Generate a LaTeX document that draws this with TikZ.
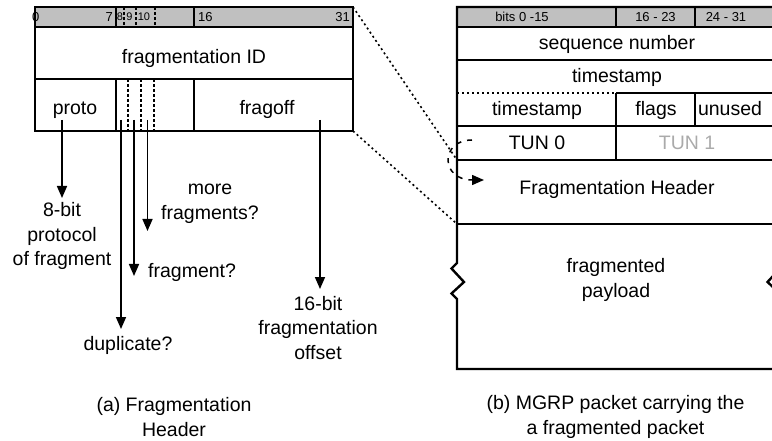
\documentclass[tikz,border=0pt]{standalone}
\usepackage{fontspec}
\setmainfont{Liberation Sans}
\usetikzlibrary{arrows.meta}
\definecolor{barfill}{RGB}{192,192,192}
\definecolor{faded}{RGB}{170,170,170}
\begin{document}
\begin{tikzpicture}[x=1pt,y=-1pt,
  frame/.style={line width=1.6pt},
  heavy/.style={line width=2.4pt},
  lbl/.style={font=\fontsize{19.5}{24.5}\selectfont, inner sep=0pt, align=center},
  one/.style={lbl, text height=14pt, text depth=0pt},
  tiny/.style={font=\fontsize{13}{14}\selectfont, inner sep=0pt, text height=9.3pt, text depth=0pt},
  tinier/.style={font=\fontsize{11}{12}\selectfont, inner sep=0pt, text height=7.9pt, text depth=0pt},
  dotline/.style={line width=1.6pt, dash pattern=on 2pt off 3pt},
  bitline/.style={line width=1.3pt, dash pattern=on 3pt off 2pt},
  arr/.style={line width=1.6pt, -{Triangle[width=10pt,length=12pt]}},
  dasharr/.style={line width=1.5pt, dash pattern=on 5pt off 6pt, -{Triangle[width=10pt,length=12pt]}},
]
\useasboundingbox (0,0) rectangle (772,441);

% ---------- (a) fragmentation header ----------
\fill[barfill] (35,7) rectangle (353,27);
\node[tiny, anchor=west] (b0) at (32,17) {0};
\node[tiny, anchor=east] (b7) at (113,17) {7};
\node[tinier] (b8) at (120,17) {8};
\node[tinier] (b9) at (129.5,17) {9};
\node[tinier] (b10) at (144,17) {10};
\node[tiny, anchor=west] (b16) at (198,17) {16};
\node[tiny, anchor=east] (b31) at (350,17) {31};

\draw[frame] (35,7) rectangle (353,131);
\draw[frame] (35,27) -- (353,27);
\draw[frame] (35,79) -- (353,79);
\draw[frame] (116,7) -- (116,27) (194,7) -- (194,27);
\draw[frame] (116,79) -- (116,131) (194,79) -- (194,131);
\foreach \x in {124,136,155} \draw[bitline] (\x,7) -- (\x,27);
\foreach \x in {128,141,154} \draw[bitline] (\x,79) -- (\x,131);

\node[one] (fid) at (194,57) {fragmentation ID};
\node[one] (proto) at (75,108) {proto};
\node[one] (fragoff) at (267,108) {fragoff};

% field descriptions
\node[lbl] (protoL) at (62,236) {8-bit\\protocol\\of fragment};
\node[lbl, anchor=west] (moreL) at (161,204) {more\\fragments?};
\node[lbl, anchor=west] (fragL) at (148,272) {fragment?};
\node[lbl] (dupL) at (128,345) {duplicate?};
\node[lbl] (offL) at (318,328) {16-bit\\fragmentation\\offset};

\coordinate (protoS) at (62,120);  \coordinate (protoE) at (62,198);
\coordinate (dupS) at (121,120);   \coordinate (dupE) at (121,329);
\coordinate (fragS) at (134,120);  \coordinate (fragE) at (134,276);
\coordinate (moreS) at (147.5,120);\coordinate (moreE) at (147.5,231);
\coordinate (offS) at (320,120);   \coordinate (offE) at (320,289);
\draw[arr] (protoS) -- (protoE);
\draw[arr] (dupS) -- (dupE);
\draw[arr] (fragS) -- (fragE);
\draw[arr] (moreS) -- (moreE);
\draw[arr] (offS) -- (offE);

\node[lbl] (capA) at (174,417) {(a) Fragmentation\\Header};

% ---------- (b) MGRP packet ----------
\fill[barfill] (457,7) rectangle (780,27);
\node[tiny] (r1) at (522,17) {bits 0 -15};
\node[tiny] (r2) at (655.5,17) {16 - 23};
\node[tiny] (r3) at (726,17) {24 - 31};

\draw[heavy] (780,7) -- (457,7) -- (457,263) -- (451.5,268.5) -- (464,282)
  -- (451.5,293.5) -- (457,299) -- (457,369) -- (780,369);
\draw[heavy] (774,7) -- (774,263) -- (780,268.5) -- (767.5,282)
  -- (780,293.5) -- (774,299) -- (774,369);
\draw[heavy] (457,27) -- (780,27);
\draw[heavy] (457,60) -- (780,60);
\draw[dotline] (457,93) -- (616,93);
\draw[heavy] (616,93) -- (780,93);
\draw[heavy] (457,126) -- (780,126);
\draw[heavy] (457,160) -- (780,160);
\draw[heavy] (457,224) -- (780,224);
\draw[heavy] (616,7) -- (616,27) (695,7) -- (695,27);
\draw[heavy] (616,93) -- (616,160) (695,93) -- (695,126);

\node[one] (seq) at (617,43) {sequence number};
\node[one] (ts1) at (617,76) {timestamp};
\node[one] (ts2) at (537,109) {timestamp};
\node[one] (flags) at (656,109) {flags};
\node[one] (unused) at (730,109) {unused};
\node[one] (tun0) at (537,143) {TUN 0};
\node[one, text=faded] (tun1) at (687,143) {TUN 1};
\node[one] (fhdr) at (617,188) {Fragmentation Header};
\node[lbl] (payload) at (616,280) {fragmented\\payload};

% the tunnel slot is filled by the fragmentation header
\coordinate (tunS) at (472,140);
\coordinate (fhdrE) at (484,180);
\draw[dasharr] (tunS) .. controls (440,140) and (440,180) .. (fhdrE);

% zoom lines from header (a) to its place in packet (b)
\coordinate (zoomA1) at (353,7);   \coordinate (zoomB1) at (457,160);
\coordinate (zoomA2) at (353,131); \coordinate (zoomB2) at (457,224);
\draw[dotline] (zoomA1) -- (zoomB1);
\draw[dotline] (zoomA2) -- (zoomB2);

\node[lbl] (capB) at (615.5,417) {(b) MGRP packet carrying the\\a fragmented packet};
\end{tikzpicture}
\end{document}
